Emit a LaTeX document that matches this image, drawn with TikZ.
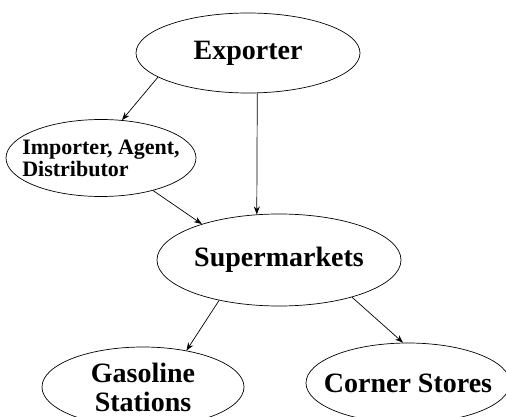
\documentclass[tikz,border=0pt]{standalone}
\usepackage{fontspec}
\setmainfont{Liberation Serif}
\usetikzlibrary{shapes,arrows.meta}

\begin{document}
\begin{tikzpicture}[x=1pt,y=-1pt,>={Stealth[length=8pt,width=6pt]},
ell/.style={ellipse,draw,inner sep=0pt,line width=0.7pt},
big/.style={font=\bfseries\fontsize{28}{29}\selectfont},
small/.style={font=\bfseries\fontsize{22}{22}\selectfont,align=left}]
\useasboundingbox(0,0)rectangle(506,417);
\node[ell,big,minimum width=224,minimum height=80](exp)at(248,53){Exporter};
\node[ell,small,inner xsep=-14pt,minimum width=190,minimum height=77](imp)at(101,158){Importer, Agent,\\Distributor};
\node[ell,big,minimum width=244,minimum height=92](sup)at(279,260){Supermarkets};
\node[ell,big,align=center,minimum width=202,minimum height=80](gas)at(143,387){Gasoline\\Stations};
\node[ell,big,inner xsep=-14pt,minimum width=204,minimum height=80](cor)at(408,383){Corner Stores};
\draw[->,line width=0.7pt](exp.195)--(imp.61);
\draw[->,line width=0.7pt](exp.283)--(sup.116);
\draw[->,line width=0.7pt](imp.328)--(sup.155);
\draw[->,line width=0.7pt](sup.214)--(gas.40);
\draw[->,line width=0.7pt](sup.333)--(cor.97);
\end{tikzpicture}
\end{document}
